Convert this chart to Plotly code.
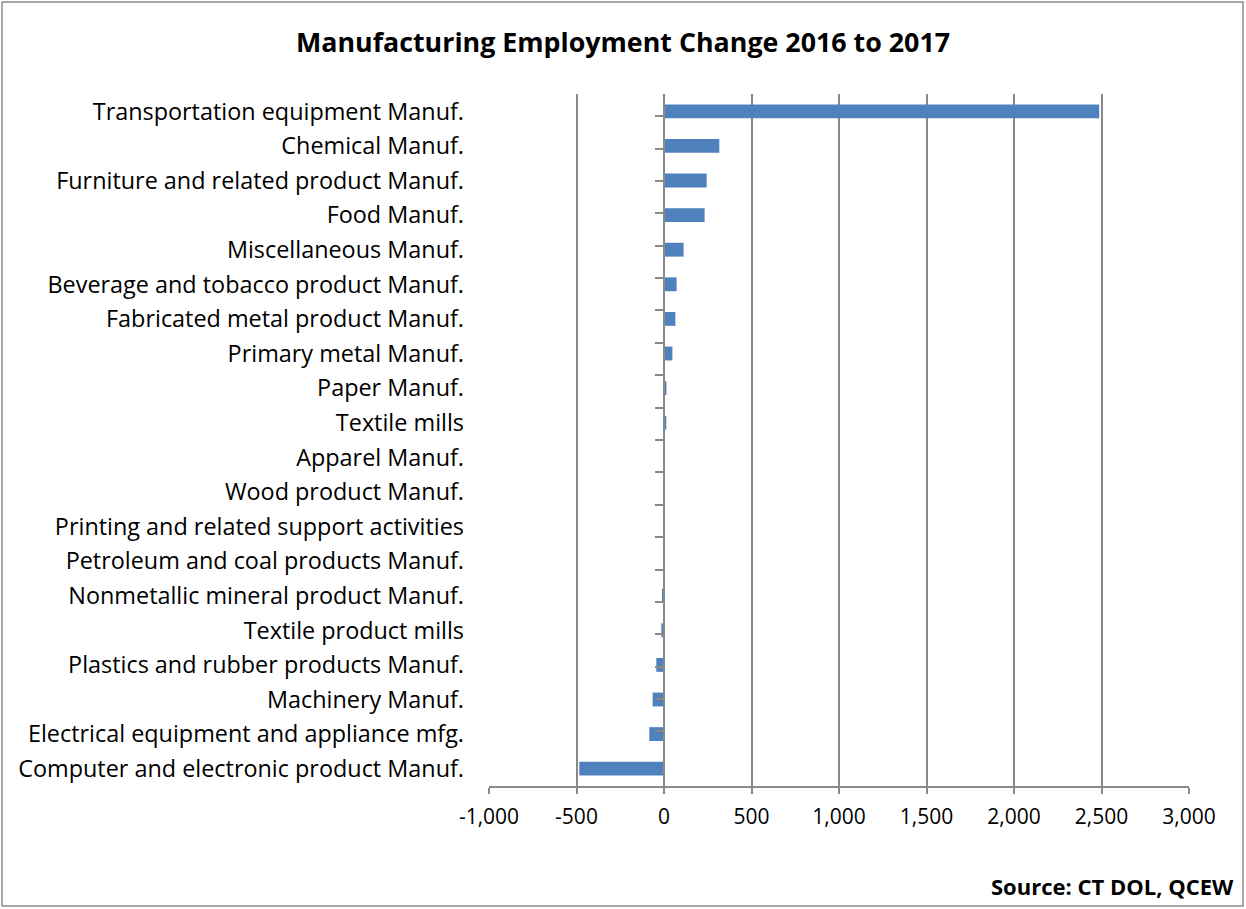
import plotly.graph_objects as go

# Manufacturing sub-sectors, listed top to bottom
industries = [
    "Transportation equipment Manuf.",
    "Chemical Manuf.",
    "Furniture and related product Manuf.",
    "Food Manuf.",
    "Miscellaneous Manuf.",
    "Beverage and tobacco product Manuf.",
    "Fabricated metal product Manuf.",
    "Primary metal Manuf.",
    "Paper Manuf.",
    "Textile mills",
    "Apparel Manuf.",
    "Wood product Manuf.",
    "Printing and related support activities",
    "Petroleum and coal products Manuf.",
    "Nonmetallic mineral product Manuf.",
    "Textile product mills",
    "Plastics and rubber products Manuf.",
    "Machinery Manuf.",
    "Electrical equipment and appliance mfg.",
    "Computer and electronic product Manuf.",
]

# Change in employment, 2016 to 2017
employment_change = [
    2487, 316, 244, 232, 112, 72, 65, 48, 14, 13,
    5, 0, 0, 0, -6, -15, -44, -65, -84, -484,
]

x_tick_values = [-1000, -500, 0, 500, 1000, 1500, 2000, 2500, 3000]
x_tick_labels = ["-1,000", "-500", "0", "500", "1,000", "1,500", "2,000", "2,500", "3,000"]

FONT = "Open Sans, Calibri, Carlito, sans-serif"
GRID = "#898989"
BAR = "#4F81BD"

fig = go.Figure()

fig.add_trace(go.Bar(
    x=employment_change,
    y=industries,
    orientation="h",
    marker=dict(color=BAR, line=dict(width=0)),
    yaxis="y",
    hoverinfo="x+y",
))

# Companion trace so the category axis drawn at zero shares the same categories
fig.add_trace(go.Scatter(
    x=employment_change,
    y=industries,
    mode="markers",
    marker=dict(opacity=0),
    yaxis="y2",
    hoverinfo="skip",
    showlegend=False,
))

fig.update_layout(
    width=1246,
    height=909,
    margin=dict(l=489, r=57, t=94, b=123),
    paper_bgcolor="white",
    plot_bgcolor="white",
    showlegend=False,
    bargap=0.6,
    font=dict(family=FONT, color="#000000"),
    title=dict(
        text="<b>Manufacturing Employment Change 2016 to 2017</b>",
        x=0.5,
        xref="container",
        xanchor="center",
        y=1 - 43 / 909,
        yref="container",
        yanchor="middle",
        font=dict(family=FONT, size=26.8, color="#000000"),
    ),
    xaxis=dict(
        range=[-1000, 3000],
        tickvals=x_tick_values,
        ticktext=x_tick_labels,
        showgrid=True,
        gridcolor=GRID,
        gridwidth=1.5,
        zeroline=False,
        showline=True,
        linecolor=GRID,
        linewidth=1.5,
        ticks="outside",
        ticklen=6,
        tickcolor=GRID,
        tickwidth=1.5,
        ticklabelstandoff=5,
        tickfont=dict(family=FONT, size=21, color="#000000"),
        fixedrange=True,
    ),
    yaxis=dict(
        type="category",
        autorange="reversed",
        showgrid=False,
        zeroline=False,
        showline=False,
        ticks="",
        ticklabelstandoff=24,
        tickfont=dict(family=FONT, size=23.4, color="#000000"),
        fixedrange=True,
    ),
    yaxis2=dict(
        type="category",
        overlaying="y",
        anchor="free",
        position=0.25,
        side="left",
        autorange="reversed",
        showgrid=False,
        zeroline=False,
        showline=True,
        linecolor=GRID,
        linewidth=1.5,
        ticks="outside",
        tickson="boundaries",
        ticklen=8,
        tickcolor=GRID,
        tickwidth=1.5,
        showticklabels=False,
        fixedrange=True,
    ),
    annotations=[
        dict(
            text="<b>Source: CT DOL, QCEW</b>",
            xref="paper",
            yref="paper",
            x=(1236 - 489) / 700,
            y=(786 - 886) / 692,
            xanchor="right",
            yanchor="middle",
            showarrow=False,
            font=dict(family=FONT, size=22, color="#000000"),
        )
    ],
    shapes=[
        dict(
            type="rect",
            xref="paper",
            yref="paper",
            x0=(2 - 489) / 700,
            x1=(1243 - 489) / 700,
            y0=(786 - 906) / 692,
            y1=(786 - 2) / 692,
            line=dict(color="#8C8C8C", width=1.5),
            fillcolor="rgba(0,0,0,0)",
            layer="below",
        )
    ],
)

fig.write_html("out.html")
